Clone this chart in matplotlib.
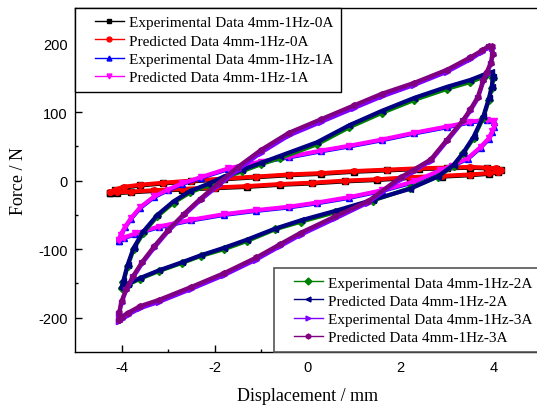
import numpy as np
import matplotlib.pyplot as plt
from matplotlib.lines import Line2D
from matplotlib.legend_handler import HandlerLine2D

plt.rcParams['font.family'] = 'Liberation Sans'
plt.rcParams['axes.unicode_minus'] = False

# 0 A: displacement (mm), upper branch then lower branch
disp_0a = [-4.24, -4.15, -3.95, -3.6, -3.1, -2.5, -1.8, -1.1, -0.4, 0.3, 1.0, 1.7, 2.4, 3.0, 3.5, 3.85, 4.05, 4.15,
           4.1, 3.9, 3.5, 2.9, 2.2, 1.5, 0.8, 0.1, -0.6, -1.3, -2.0, -2.7, -3.3, -3.8, -4.1, -4.24]
force_exp_0a = [-18, -14, -10, -7, -4, -1, 2, 5, 8, 10, 13, 15, 17, 18, 19, 18, 17, 15,
                12, 10, 8, 6, 4, 1, -1, -4, -6, -9, -11, -13, -15, -17, -18, -18]
force_pre_0a = [-17, -13, -9, -6, -3, 0, 3, 6, 9, 11, 14, 16, 18, 19, 20, 19, 18, 16,
                13, 11, 9, 7, 5, 2, 0, -3, -5, -8, -10, -12, -14, -16, -17, -17]

# 1 A
disp_1a = [-4.06, -4.02, -3.92, -3.8, -3.6, -3.3, -3.0, -2.7, -2.3, -1.7, -1.0, -0.4, 0.3, 0.9, 1.6, 2.3, 3.0, 3.5, 3.85, 4.0,
           4.02, 3.97, 3.9, 3.72, 3.45, 3.1, 2.85, 2.3, 1.6, 0.9, 0.2, -0.4, -1.1, -1.8, -2.5, -3.2, -3.7, -3.95, -4.06]
force_exp_1a = [-88, -80, -68, -56, -40, -24, -14, -5, 4, 17, 27, 34, 43, 50, 59, 69, 78, 85, 88, 86,
                79, 71, 61, 48, 32, 21, 14, -2, -15, -25, -33, -39, -44, -50, -58, -68, -78, -84, -88]
force_pre_1a = [-87, -79, -67, -55, -39, -23, -13, -4, 5, 18, 28, 35, 44, 51, 60, 70, 79, 86, 89, 87,
                80, 72, 62, 49, 33, 22, 15, -1, -14, -24, -32, -38, -43, -49, -57, -67, -77, -83, -87]

# 2 A
disp_2a = [-4.0, -3.96, -3.87, -3.74, -3.53, -3.23, -2.88, -2.52, -2.15, -1.8, -1.4, -1.0, -0.6, 0.2, 0.9, 1.6, 2.3, 3.0, 3.5, 3.8, 3.95,
           3.99, 3.96, 3.9, 3.78, 3.57, 3.35, 3.14, 2.8, 2.2, 1.4, 0.6, -0.15, -0.7, -1.3, -1.8, -2.3, -2.7, -3.2, -3.6, -3.87, -3.99]
force_exp_2a = [-157, -148, -125, -100, -76, -52, -32, -17, -7, 4, 14, 24, 33, 53, 78, 99, 118, 134, 144, 152, 156,
                150, 135, 118, 92, 62, 40, 22, 6, -11, -29, -46, -60, -71, -88, -100, -110, -120, -132, -143, -152, -157]
force_pre_2a = [-156, -146, -123, -98, -74, -50, -30, -15, -5, 6, 16, 26, 36, 56, 81, 102, 121, 137, 147, 155, 158,
                152, 137, 120, 94, 64, 41, 23, 6, -12, -28, -44, -58, -70, -86, -98, -109, -119, -131, -142, -151, -156]

# 3 A
disp_3a = [-4.06, -4.05, -4.0, -3.9, -3.75, -3.55, -3.3, -3.0, -2.65, -2.3, -1.9, -1.5, -1.0, -0.4, 0.3, 1.0, 1.6, 2.3, 3.0, 3.5, 3.75, 3.9, 3.97,
           3.98, 3.94, 3.85, 3.78, 3.66, 3.5, 3.35, 3.0, 2.65, 2.28, 2.0, 1.3, 0.6, -0.15, -0.6, -1.1, -1.8, -2.5, -3.2, -3.6, -3.87, -4.0, -4.06]
force_exp_3a = [-205, -194, -178, -160, -141, -120, -98, -74, -50, -28, -6, 16, 41, 66, 86, 106, 123, 140, 159, 177, 188, 195, 194,
                183, 170, 156, 145, 120, 102, 87, 58, 29, 14, 2, -32, -55, -79, -96, -115, -138, -158, -177, -186, -196, -202, -205]
force_pre_3a = [-203, -192, -176, -158, -139, -118, -96, -72, -48, -26, -3, 20, 45, 70, 90, 110, 127, 143, 162, 180, 190, 197, 196,
                185, 172, 158, 147, 122, 104, 89, 60, 31, 16, 5, -30, -52, -76, -93, -112, -135, -155, -174, -183, -193, -199, -203]

series = [
    (disp_0a, force_exp_0a, 'Experimental Data 4mm-1Hz-0A', '#000000', 's'),
    (disp_0a, force_pre_0a, 'Predicted Data 4mm-1Hz-0A', '#ff0000', 'o'),
    (disp_1a, force_exp_1a, 'Experimental Data 4mm-1Hz-1A', '#0000ff', '^'),
    (disp_1a, force_pre_1a, 'Predicted Data 4mm-1Hz-1A', '#ff00ff', 'v'),
    (disp_2a, force_exp_2a, 'Experimental Data 4mm-1Hz-2A', '#008000', 'D'),
    (disp_2a, force_pre_2a, 'Predicted Data 4mm-1Hz-2A', '#000080', '<'),
    (disp_3a, force_exp_3a, 'Experimental Data 4mm-1Hz-3A', '#8000ff', '>'),
    (disp_3a, force_pre_3a, 'Predicted Data 4mm-1Hz-3A', '#800080', 'h'),
]

fig = plt.figure(figsize=(5.37, 4.06), dpi=100)
ax = fig.add_axes([0.1397, 0.1305, 0.866, 0.8473])

handles = []
for x, f, label, color, marker in series:
    ax.plot(x, f, color=color, lw=3.0, marker=marker, ms=4, mec=color, mfc=color)
    handles.append(Line2D([], [], color=color, lw=1.0, marker=marker, ms=3.5, label=label))

ax.set_xlim(-5, 5)
ax.set_ylim(-250, 252)
ax.set_xticks([-4, -2, 0, 2, 4])
ax.set_xticks([-3, -1, 1, 3], minor=True)
ax.set_yticks([-200, -100, 0, 100, 200])
ax.set_yticks([-150, -50, 50, 150], minor=True)
ax.tick_params(which='both', direction='in', top=False, right=False, labelsize=10.5)
ax.tick_params(which='major', length=5, width=1)
ax.tick_params(which='minor', length=2.5, width=1)
ax.tick_params(axis='x', pad=6)
ax.tick_params(axis='y', pad=5.5)
for s in ax.spines.values():
    s.set_linewidth(1.0)

serif = {'family': 'Liberation Serif', 'size': 13}
ax.set_xlabel('Displacement / mm', fontdict=serif, labelpad=9)
ax.set_ylabel('Force / N', fontdict=serif, labelpad=8)

hmap = {Line2D: HandlerLine2D(xpad=0.8)}
leg_opts = dict(prop={'family': 'Liberation Serif', 'size': 11}, handlelength=2.7, handletextpad=0.35,
                borderpad=0.5, labelspacing=0.3, borderaxespad=0, fancybox=False, framealpha=1,
                numpoints=1, handler_map=hmap)

leg1 = ax.legend(handles=handles[:4], loc='upper left', bbox_to_anchor=(0, 1), **leg_opts)
leg1.get_frame().set_edgecolor('black')
leg1.get_frame().set_linewidth(1.0)
ax.add_artist(leg1)

leg2 = ax.legend(handles=handles[4:], loc='lower right', bbox_to_anchor=(1, 0), **leg_opts)
leg2.get_frame().set_edgecolor('#555555')
leg2.get_frame().set_linewidth(1.2)

fig.savefig('out.png', dpi=100)
